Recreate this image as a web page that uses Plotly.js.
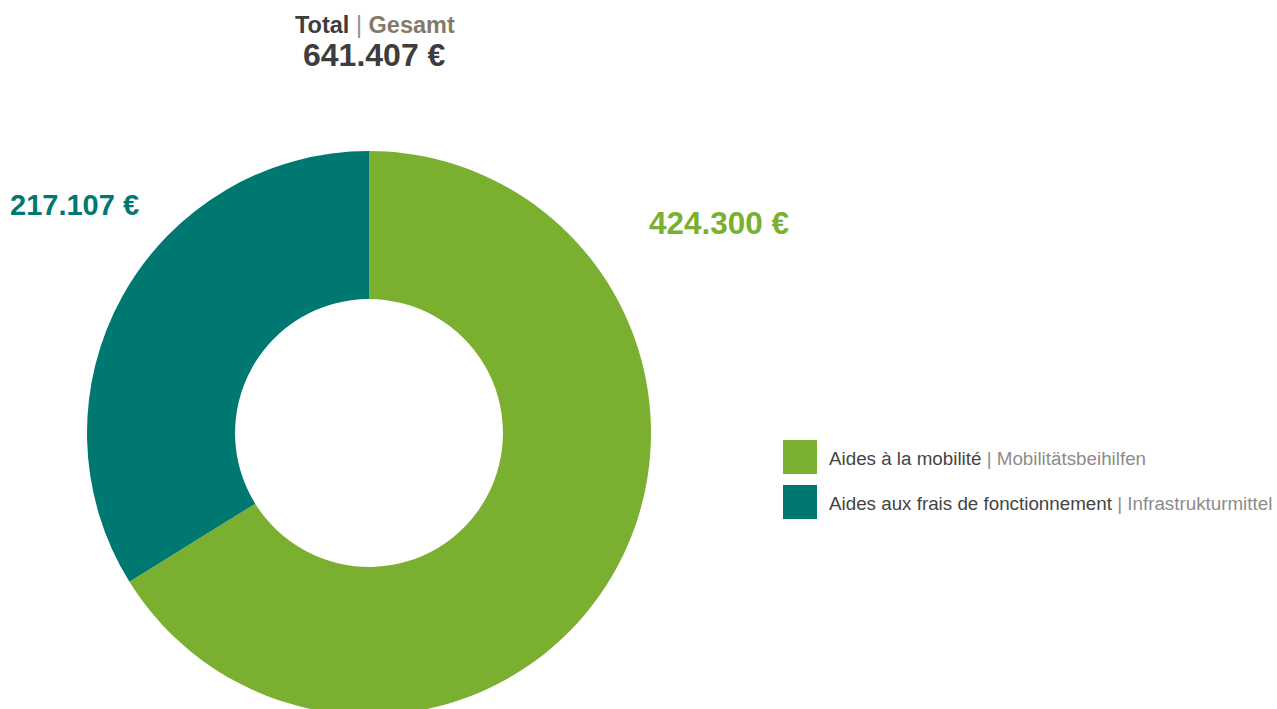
<!DOCTYPE html>
<html>
<head>
<meta charset="utf-8">
<script src="https://cdn.plot.ly/plotly-3.0.1.min.js"></script>
<style>
html,body{margin:0;padding:0;overflow:hidden;background:#fff;width:1277px;height:709px;}
#chart{width:1277px;height:720px;}
</style>
</head>
<body>
<div id="chart"></div>
<script>
// Data
const labelsFR = ["Aides à la mobilité", "Aides aux frais de fonctionnement"];
const labelsDE = ["Mobilitätsbeihilfen", "Infrastrukturmittel"];
const values = [424300, 217107];
const colors = ["#7aaf30", "#007872"];
const totalLabelFR = "Total";
const totalLabelDE = "Gesamt";

function fmt(v) {
  return v.toString().replace(/\B(?=(\d{3})+(?!\d))/g, ".") + " €";
}
const total = values.reduce((a, b) => a + b, 0);

const W = 1277, H = 720;
const px = x => x / W;
const py = y => 1 - y / H;

const FONT = "Liberation Sans, Arial, sans-serif";

const trace = {
  type: "pie",
  labels: labelsFR,
  values: values,
  marker: { colors: colors, line: { width: 0 } },
  hole: 0.475,
  sort: false,
  direction: "clockwise",
  rotation: 0,
  textinfo: "none",
  hoverinfo: "label+value",
  showlegend: false,
  domain: { x: [px(87), px(651)], y: [py(715), py(151)] }
};

const annotations = [
  {
    xref: "paper", yref: "paper", x: px(375), y: py(25),
    text: "<b>" + totalLabelFR + " <span style='color:#9a8f80;font-weight:normal'>|</span> <span style='color:#857a68'>" + totalLabelDE + "</span></b>",
    showarrow: false, xanchor: "center", yanchor: "middle",
    font: { family: FONT, size: 23.5, color: "#3d3d3d" }
  },
  {
    xref: "paper", yref: "paper", x: px(374), y: py(55),
    text: "<b>" + fmt(total) + "</b>",
    showarrow: false, xanchor: "center", yanchor: "middle",
    font: { family: FONT, size: 32, color: "#3d3d3d" }
  },
  {
    xref: "paper", yref: "paper", x: px(719), y: py(223),
    text: "<b>" + fmt(values[0]) + "</b>",
    showarrow: false, xanchor: "center", yanchor: "middle",
    font: { family: FONT, size: 31.5, color: colors[0] }
  },
  {
    xref: "paper", yref: "paper", x: px(74), y: py(205),
    text: "<b>" + fmt(values[1]) + "</b>",
    showarrow: false, xanchor: "center", yanchor: "middle",
    font: { family: FONT, size: 29, color: colors[1] }
  }
];

const shapes = [];
const legendY = [457, 502];
labelsFR.forEach((l, i) => {
  shapes.push({
    type: "rect", xref: "paper", yref: "paper",
    x0: px(783), x1: px(817), y0: py(legendY[i] + 17), y1: py(legendY[i] - 17),
    fillcolor: colors[i], line: { width: 0 }
  });
  annotations.push({
    xref: "paper", yref: "paper", x: px(827), y: py(legendY[i] + 2),
    text: l + " <span style='color:#8c8c8c'>| " + labelsDE[i] + "</span>",
    showarrow: false, xanchor: "left", yanchor: "middle",
    font: { family: FONT, size: 18.8, color: "#444444" }
  });
});

const layout = {
  width: W, height: H,
  margin: { l: 0, r: 0, t: 0, b: 0 },
  paper_bgcolor: "#ffffff",
  plot_bgcolor: "#ffffff",
  showlegend: false,
  annotations: annotations,
  shapes: shapes
};

Plotly.newPlot("chart", [trace], layout, { displayModeBar: false, staticPlot: true });
</script>
</body>
</html>
